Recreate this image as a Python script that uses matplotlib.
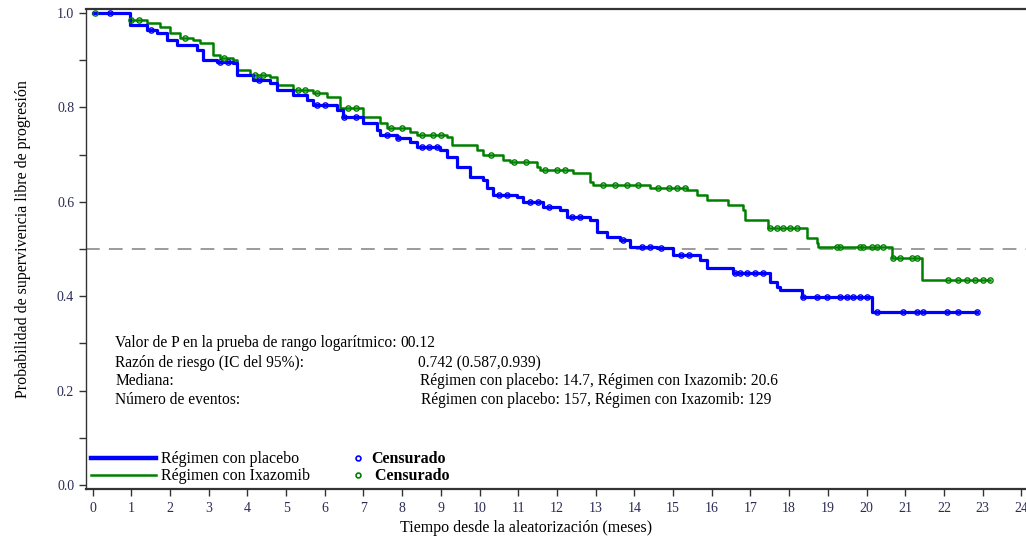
import numpy as np
import matplotlib
matplotlib.use("Agg")
import matplotlib.pyplot as plt
from matplotlib.lines import Line2D

plt.rcParams['font.family'] = ['Liberation Serif', 'DejaVu Serif']

# Kaplan-Meier steps (time in months, survival)
placebo_t = [0.00, 0.96, 1.40, 1.66, 1.92, 2.18, 2.70, 2.85, 3.21, 3.63, 3.73, 4.14, 4.58,
             4.76, 5.18, 5.54, 5.69, 6.31, 6.47, 6.98, 7.35, 7.42, 7.86, 8.20, 8.38, 8.98,
             9.16, 9.42, 9.75, 10.09, 10.19, 10.34, 10.96, 11.12, 11.64, 12.08, 12.26, 12.85,
             13.03, 13.29, 13.63, 13.88, 14.58, 14.99, 15.69, 15.87, 16.54, 17.50, 17.68,
             17.76, 18.33, 20.14, 22.85]
placebo_s = [1.000, 0.975, 0.964, 0.958, 0.943, 0.932, 0.922, 0.900, 0.896, 0.894, 0.869,
             0.858, 0.852, 0.837, 0.826, 0.816, 0.805, 0.794, 0.780, 0.767, 0.752, 0.742,
             0.735, 0.727, 0.716, 0.710, 0.695, 0.674, 0.653, 0.646, 0.629, 0.614, 0.610,
             0.600, 0.589, 0.583, 0.568, 0.561, 0.536, 0.525, 0.519, 0.504, 0.502, 0.487,
             0.477, 0.460, 0.449, 0.430, 0.419, 0.413, 0.398, 0.367, 0.367]

ixa_t = [0.00, 0.96, 1.40, 1.74, 2.00, 2.26, 2.59, 2.77, 3.11, 3.29, 3.63, 3.73, 4.06,
         4.58, 4.76, 5.18, 5.69, 6.05, 6.39, 6.98, 7.43, 7.61, 8.20, 8.38, 9.16, 9.29,
         9.93, 10.09, 10.60, 10.78, 11.48, 11.56, 12.41, 12.85, 12.93, 14.40, 15.36, 15.61,
         15.87, 16.42, 16.80, 16.86, 17.45, 18.46, 18.71, 18.74, 20.65, 21.43, 23.19]
ixa_s = [1.000, 0.985, 0.979, 0.970, 0.958, 0.947, 0.943, 0.936, 0.911, 0.905, 0.900,
         0.879, 0.869, 0.864, 0.847, 0.837, 0.831, 0.822, 0.799, 0.780, 0.767, 0.756,
         0.748, 0.742, 0.737, 0.720, 0.710, 0.699, 0.689, 0.684, 0.674, 0.667, 0.661,
         0.642, 0.636, 0.629, 0.625, 0.614, 0.604, 0.593, 0.583, 0.561, 0.544, 0.523,
         0.513, 0.504, 0.481, 0.434, 0.434]

placebo_cens = [0.45, 1.5, 3.3, 3.5, 4.3, 5.8, 6.0, 6.5, 6.8, 7.6, 7.9, 8.5, 8.7, 8.9,
                10.5, 10.7, 11.3, 11.5, 11.8, 12.4, 12.6, 13.7, 14.2, 14.4, 14.7, 15.2,
                15.4, 16.6, 16.73, 16.9, 17.11, 17.32, 18.35, 18.71, 18.97, 19.31, 19.49,
                19.64, 19.82, 20.0, 20.26, 20.94, 21.3, 21.45, 22.07, 22.36, 22.85]
ixa_cens = [0.05, 1.0, 1.2, 2.4, 3.4, 4.2, 4.4, 5.3, 5.5, 5.8, 6.6, 6.8, 7.7, 8.0, 8.5,
            8.8, 9.0, 10.3, 10.9, 11.2, 11.7, 12.0, 12.2, 13.2, 13.5, 13.8, 14.1, 14.6,
            14.9, 15.1, 15.3, 17.5, 17.68, 17.84, 18.02, 18.2, 19.23, 19.31, 19.83, 19.9,
            20.14, 20.26, 20.42, 20.68, 20.86, 21.17, 21.3, 22.1, 22.36, 22.59, 22.8,
            23.0, 23.19]

x_ticks = list(range(0, 25))
stats_labels = ["Valor de P en la prueba de rango logarítmico:",
                "Razón de riesgo (IC del 95%):",
                "Mediana:",
                "Número de eventos:"]
stats_values = ["00.12",
                "0.742 (0.587,0.939)",
                "Régimen con placebo: 14.7, Régimen con Ixazomib: 20.6",
                "Régimen con placebo: 157, Régimen con Ixazomib: 129"]

BLUE = "#0000FF"
GREEN = "#008000"


def step_value(t, times, surv):
    idx = np.searchsorted(times, t, side="right") - 1
    return np.asarray(surv)[idx]


fig = plt.figure(figsize=(10.26, 5.38), dpi=100)
ax = fig.add_axes([86 / 1026, 49 / 538, 940 / 1026, 480 / 538])

ax.axhline(0.5, color="#808080", lw=1.1, dashes=(9, 6), zorder=1)

ax.plot(placebo_t, placebo_s, drawstyle="steps-post", color=BLUE, lw=2.3, zorder=3)
ax.plot(ixa_t, ixa_s, drawstyle="steps-post", color=GREEN, lw=1.8, zorder=2)
ax.plot(placebo_cens, step_value(placebo_cens, placebo_t, placebo_s), "o", ls="none",
        mfc="none", mec=BLUE, ms=3.8, mew=1.0, zorder=4)
ax.plot(ixa_cens, step_value(ixa_cens, ixa_t, ixa_s), "o", ls="none",
        mfc="none", mec=GREEN, ms=3.8, mew=1.0, zorder=4)

ax.set_xlim(-0.17, 24.12)
ax.set_ylim(-0.0085, 1.0085)
ax.set_xticks(x_ticks)
ax.set_yticks([0.0, 0.2, 0.4, 0.6, 0.8, 1.0])
ax.set_yticks(np.arange(0.1, 1.0, 0.2), minor=True)
ax.yaxis.set_major_formatter(matplotlib.ticker.FormatStrFormatter("%.1f"))
ax.tick_params(axis="both", which="both", direction="out", length=5, width=1,
               color="#333333", labelsize=10, labelcolor="#2b2b55")
ax.tick_params(axis="x", pad=4)

ax.spines["right"].set_visible(False)
for side in ["top", "bottom"]:
    ax.spines[side].set_linewidth(1.6)
    ax.spines[side].set_color("#333333")
ax.spines["left"].set_linewidth(1.0)
ax.spines["left"].set_color("#333333")

ax.set_xlabel("Tiempo desde la aleatorización (meses)", fontsize=11.5)
ax.xaxis.set_label_coords(0.468, -0.064)
ax.set_ylabel("Probabilidad de supervivencia libre de progresión", fontsize=11.5)
ax.yaxis.set_label_coords(-0.058, 0.52)

label_y = [0.304, 0.2625, 0.225, 0.185]
value_x = [0.334, 0.353, 0.355, 0.356]
for lab, val, yy, vx in zip(stats_labels, stats_values, label_y, value_x):
    ax.text(0.031, yy, lab, transform=ax.transAxes, fontsize=11.2, va="center")
    ax.text(vx, yy, val, transform=ax.transAxes, fontsize=11.2, va="center")

line_handles = [Line2D([], [], color=BLUE, lw=3.2), Line2D([], [], color=GREEN, lw=1.8)]
leg1 = ax.legend(line_handles, ["Régimen con placebo", "Régimen con Ixazomib"],
                 loc="lower left", bbox_to_anchor=(-0.005, -0.01), frameon=False,
                 fontsize=11.5, handlelength=4.05, handletextpad=0.35, labelspacing=0.05,
                 borderaxespad=0.2)
ax.add_artist(leg1)
cens_handles = [Line2D([], [], marker="o", ls="none", mfc="none", mec=BLUE, ms=3.5, mew=1.2),
                Line2D([], [], marker="o", ls="none", mfc="none", mec=GREEN, ms=3.5, mew=1.2)]
leg2 = ax.legend(cens_handles, ["Censurado", " Censurado"], loc="lower left",
                 bbox_to_anchor=(0.272, -0.01), frameon=False, handlelength=0.8,
                 handletextpad=0.45, labelspacing=0.05, borderaxespad=0.2,
                 prop={"size": 11.5, "weight": "bold"})

fig.savefig("out.png", dpi=100)
